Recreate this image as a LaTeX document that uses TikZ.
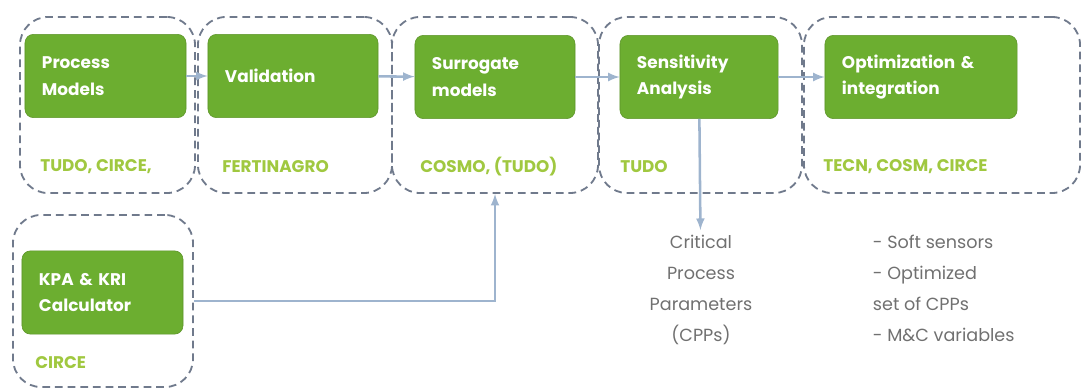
\documentclass[tikz,border=0pt]{standalone}
\usepackage{fontspec}
\setmainfont{Poppins}
\usetikzlibrary{arrows, calc}
\definecolor{stage-green}{RGB}{108,174,48}
\definecolor{partner-green}{RGB}{160,200,64}
\definecolor{group-grey}{RGB}{112,122,140}
\definecolor{flow-blue}{RGB}{158,180,206}
\definecolor{note-grey}{RGB}{112,112,112}
\tikzset{
    my-group/.style={
        draw=group-grey, line width=1.3pt, dash pattern=on 5.5pt off 3.5pt, rounded corners=20pt, minimum height=4.4cm
    },
    my-stage/.style={
        fill=stage-green, draw=stage-green!85!black, rounded corners=6pt, text=white, align=left,
        font=\bfseries\fontsize{12}{19}\selectfont, inner xsep=0.425cm, minimum height=2.08cm, text width=#1
    },
    my-partner/.style={
        anchor=west, inner sep=0pt, text=partner-green, font=\bfseries\fontsize{12}{14}\selectfont
    },
    my-note/.style={
        text=note-grey, font=\fontsize{12.5}{22}\selectfont
    },
    my-flow/.style={
        draw=flow-blue, line width=1.8pt, -latex
    },
}

\begin{document}
\begin{tikzpicture}[x=0.025cm, y=-0.025cm]
        \useasboundingbox (0,0) rectangle (1084,389);

        % PARTNER GROUPS ------------------------------------------------------------------------------
        \node[my-group, minimum width=4.375cm] (GRPPM)  at (107.5, 105) {};
        \node[my-group, minimum width=4.85cm]  (GRPVAL) at (295, 105)   {};
        \node[my-group, minimum width=5.15cm]  (GRPSUR) at (495, 105)   {};
        \node[my-group, minimum width=5.075cm] (GRPSEN) at (700.5, 105) {};
        \node[my-group, minimum width=6.9cm]   (GRPOPT) at (942, 105)   {};
        \node[my-group, minimum width=4.5cm, minimum height=4.3cm] (GRPKPA) at (103, 301) {};

        % STAGES --------------------------------------------------------------------------------------
        \node[my-stage=3.175cm] (PM)  at (105.5, 76) {Process\\Models};
        \node[my-stage=3.4cm]   (VAL) at (293, 76)   {Validation};
        \node[my-stage=3.15cm]  (SUR) at (495, 77)   {Surrogate\\models};
        \node[my-stage=3.1cm]   (SEN) at (699, 77)   {Sensitivity\\Analysis};
        \node[my-stage=3.95cm]  (OPT) at (921, 77)   {Optimization \&\\integration};
        \node[my-stage=3.175cm] (KPA) at (102.5, 292.5) {KPA \& KRI\\Calculator};

        % PARTNERS ------------------------------------------------------------------------------------
        \node[my-partner] (PMPART)  at (40, 167)  {TUDO, CIRCE,};
        \node[my-partner] (VALPART) at (222, 167) {FERTINAGRO};
        \node[my-partner] (SURPART) at (420, 167) {COSMO, (TUDO)};
        \node[my-partner] (SENPART) at (620, 167) {TUDO};
        \node[my-partner] (OPTPART) at (823, 167) {TECN, COSM, CIRCE};
        \node[my-partner] (KPAPART) at (35, 363)  {CIRCE};

        % OUTCOMES ------------------------------------------------------------------------------------
        \node[my-note, align=center, anchor=north] (CPP) at (701, 230)
            {Critical\\Process\\Parameters\\(CPPs)};
        \node[my-note, align=left, anchor=north west] (RES) at (868, 230)
            {- Soft sensors\\- Optimized\\set of CPPs\\- M\&C variables};

        % FLOW CONNECTIONS
        \draw[my-flow] (PM)  -- (VAL);
        \draw[my-flow] (VAL) -- (SUR);
        \draw[my-flow] (SUR) -- (SEN);
        \draw[my-flow] (SEN) -- (OPT);
        \draw[my-flow] (SEN) -- (CPP);
        \draw[my-flow] (GRPKPA.east) -| (GRPSUR.south);

    \end{tikzpicture}
\end{document}
